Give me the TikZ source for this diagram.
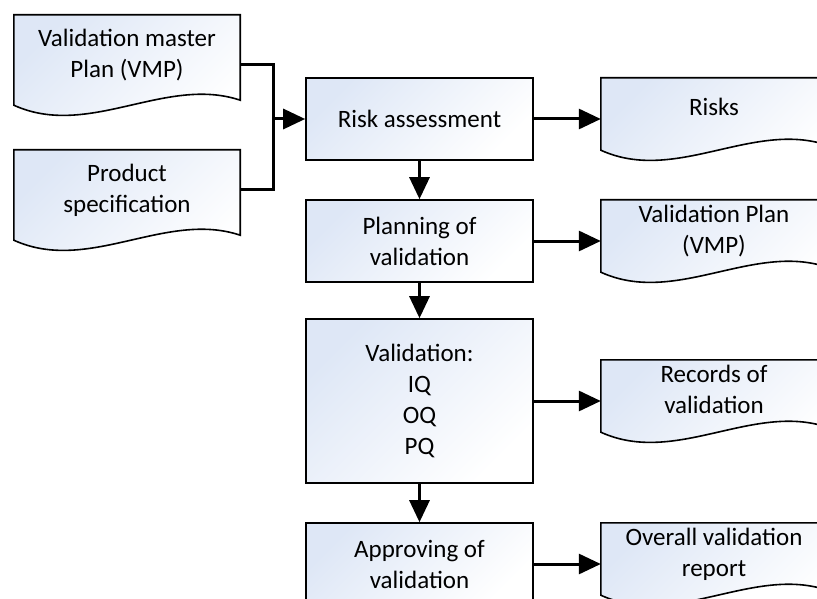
\documentclass[tikz,border=0pt]{standalone}
\usepackage{fontspec}
\setmainfont{Carlito}
\usetikzlibrary{arrows.meta,calc,backgrounds}
\definecolor{fillblue}{RGB}{222,231,246}

\tikzset{
  shadeblue/.style={top color=fillblue, bottom color=white, shading angle=45},
  box/.style={draw=black, line width=1.6pt, shadeblue,
    minimum width=227pt, minimum height=82pt, align=center,
    font=\fontsize{25}{31}\selectfont},
  doc/.style={minimum width=226pt, minimum height=72pt, align=center,
    text depth=14pt, font=\fontsize{25}{31}\selectfont},
  docline/.style={draw=black, line width=1.6pt, shadeblue},
  flow/.style={line width=3pt, -{Triangle[length=22pt,width=20pt]}},
  link/.style={line width=3pt},
}

% wavy document outline round a named node
\newcommand\docwave[1]{%
  \shadedraw[docline] (#1.north west) -- (#1.north east) -- ([yshift=5pt]#1.south east)
    .. controls ($(#1.south west)!0.67!(#1.south east)+(0,30pt)$)
    and ($(#1.south west)!0.33!(#1.south east)+(0,-34pt)$) .. (#1.south west) -- cycle;}

\begin{document}
\begin{tikzpicture}[x=1pt,y=1pt]
  \useasboundingbox (0,0) rectangle (817,-599);

  % inputs
  \node[doc, minimum height=90pt] (vmp) at (127,-60) {Validation master\\Plan (VMP)};
  \node[doc, minimum height=90pt] (spec) at (127,-195) {Product\\specification};

  % steps
  \node[box] (risk) at (419.5,-119) {Risk assessment};
  \node[box] (plan) at (419.5,-241) {Planning of\\validation};
  \node[box, minimum height=164pt] (valid) at (419.5,-401) {Validation:\\IQ\\OQ\\PQ};
  \node[box] (approve) at (419.5,-564) {Approving of\\validation};

  % outputs
  \node[doc] (risks) at (714,-114) {Risks};
  \node[doc] (vplan) at (714,-236) {Validation Plan\\(VMP)};
  \node[doc] (records) at (714,-396) {Records of\\validation};
  \node[doc] (report) at (714,-559) {Overall validation\\report};

  \begin{pgfonlayer}{background}
    \foreach \d in {vmp,spec,risks,vplan,records,report} {\docwave{\d}}
  \end{pgfonlayer}

  % connectors
  \coordinate (join) at (273,-119);
  \draw[link] ([yshift=-5pt]vmp.east) -| (join) |- ([yshift=5pt]spec.east);
  \draw[flow] (join) -- (risk.west);
  \draw[flow] (risk) -- (plan);
  \draw[flow] (plan) -- (valid);
  \draw[flow] (valid) -- (approve);
  \draw[flow] (risk.east) -- (risk.east -| risks.west);
  \draw[flow] (plan.east) -- (plan.east -| vplan.west);
  \draw[flow] (valid.east) -- (valid.east -| records.west);
  \draw[flow] (approve.east) -- (approve.east -| report.west);
\end{tikzpicture}
\end{document}
